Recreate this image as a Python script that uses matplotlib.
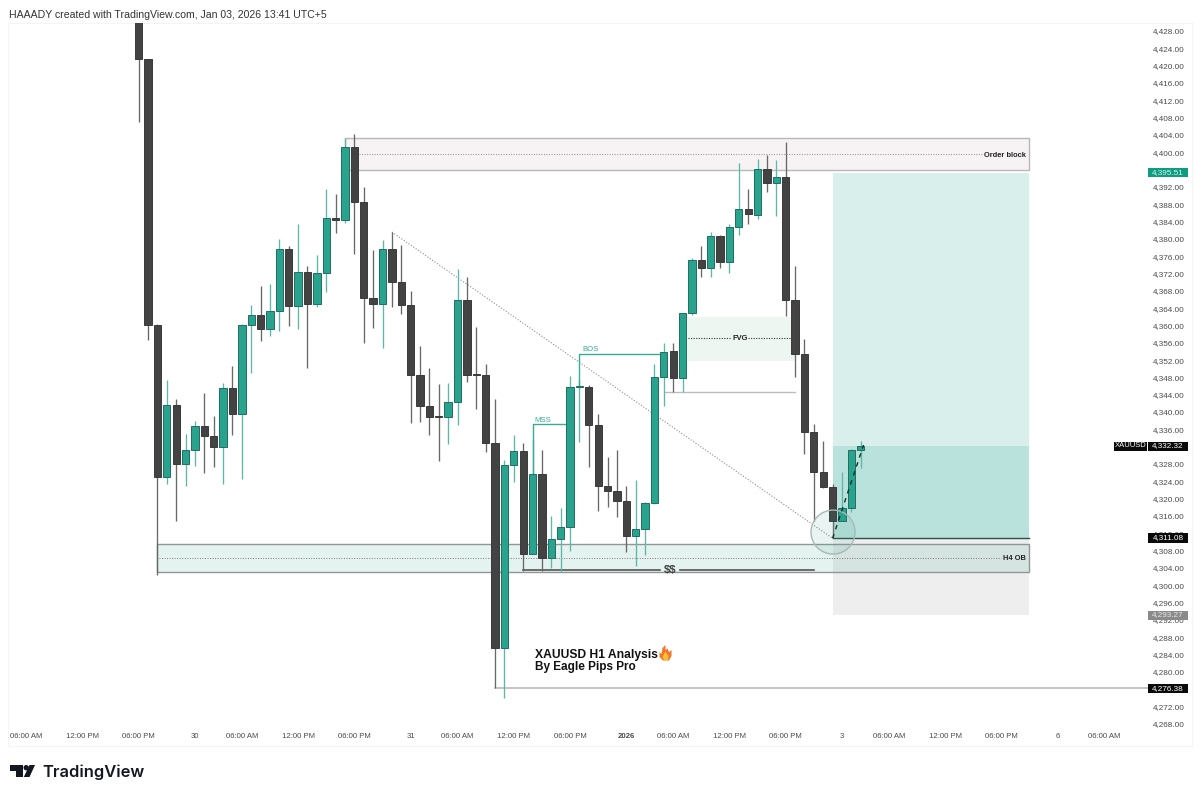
import matplotlib
matplotlib.use("Agg")
import matplotlib.pyplot as plt
from matplotlib.patches import Rectangle, Ellipse, Polygon, Circle
from matplotlib.transforms import Affine2D

plt.rcParams['font.family'] = ['Liberation Sans', 'DejaVu Sans']

opens = [4431.0,4421.8,4360.3,4325.2,4341.9,4328.2,4331.5,4337.0,4334.7,4332.2,
         4345.8,4339.8,4360.3,4362.6,4359.4,4363.6,4377.9,4364.7,4372.6,4365.2,
         4372.3,4385.0,4384.6,4401.4,4388.7,4366.6,4365.2,4377.9,4370.3,4365.0,
         4348.8,4341.6,4339.1,4339.0,4342.5,4366.1,4348.8,4348.7,4333.1,4285.7,
         4328.0,4331.2,4307.4,4325.9,4306.5,4310.9,4313.7,4346.0,4346.1,4337.2,
         4323.2,4322.0,4319.7,4311.6,4313.3,4319.2,4348.4,4354.3,4348.1,4363.1,
         4375.3,4373.5,4380.9,4374.9,4383.0,4387.1,4385.8,4396.4,4393.1,4394.5,
         4366.1,4353.6,4335.6,4326.4,4323.0,4315.1,4318.1,4331.5]
closes = [4421.8,4360.3,4325.2,4341.9,4328.2,4331.5,4337.0,4334.7,4332.2,4345.8,
          4339.8,4360.3,4362.6,4359.4,4363.6,4377.9,4364.7,4372.6,4365.2,4372.3,
          4385.0,4384.6,4401.4,4388.7,4366.6,4365.2,4377.9,4370.3,4365.0,4348.8,
          4341.6,4339.1,4339.0,4342.5,4366.1,4348.8,4348.7,4333.1,4285.7,4328.0,
          4331.2,4307.4,4325.9,4306.5,4310.9,4313.7,4346.0,4346.1,4337.2,4323.2,
          4322.0,4319.7,4311.6,4313.3,4319.2,4348.3,4354.1,4348.1,4363.1,4375.3,
          4373.5,4380.9,4374.9,4383.0,4387.1,4385.9,4396.4,4393.1,4394.5,4366.1,
          4353.6,4335.6,4326.4,4323.0,4315.1,4318.1,4331.5,4332.32]
highs = [4431.0,4421.8,4360.5,4347.6,4343.2,4335.2,4338.2,4344.6,4339.3,4346.9,
         4350.9,4360.5,4365.0,4369.3,4369.8,4380.2,4378.6,4383.7,4374.0,4376.5,
         4391.7,4390.6,4403.5,4404.4,4392.2,4377.7,4380.0,4381.8,4378.8,4368.2,
         4355.5,4350.4,4346.7,4346.9,4373.3,4371.4,4359.9,4351.3,4343.2,4329.2,
         4334.9,4333.1,4333.8,4331.5,4316.2,4318.1,4348.6,4347.6,4346.5,4339.8,
         4329.9,4331.5,4323.2,4324.5,4319.4,4351.3,4356.2,4356.2,4363.1,4375.8,
         4378.6,4381.8,4381.1,4383.7,4397.7,4391.7,4398.7,4399.6,4398.4,4402.6,
         4374.0,4357.1,4337.5,4333.5,4323.6,4326.4,4331.6,4333.5]
lows = [4407.2,4356.9,4302.6,4323.6,4315.1,4323.2,4327.8,4326.2,4327.5,4323.6,
        4334.9,4324.8,4349.2,4356.6,4357.8,4359.0,4360.1,4359.4,4350.4,4364.5,
        4368.0,4381.6,4383.9,4376.7,4356.2,4359.6,4355.0,4364.5,4362.9,4337.7,
        4337.9,4334.9,4328.9,4332.9,4337.2,4347.2,4340.9,4331.0,4276.38,4274.2,
        4324.1,4303.5,4307.4,4303.5,4304.2,4303.3,4308.1,4333.3,4327.5,4317.4,
        4318.3,4316.0,4307.9,4304.7,4307.2,4319.0,4341.6,4344.9,4344.9,4362.6,
        4371.4,4371.4,4373.5,4372.3,4381.1,4383.7,4384.8,4391.0,4385.5,4362.4,
        4348.3,4330.5,4315.1,4322.7,4311.08,4315.1,4317.1,4327.3]

price_ticks = [p for p in range(4268, 4429, 4) if p != 4276]
time_pos = [-12,-6,0,6,11,17,23,29,34,40,46,52,57,63,69,75,80,86,92,98,103]
time_labels = ["06:00 AM","12:00 PM","06:00 PM","30","06:00 AM","12:00 PM","06:00 PM","31",
               "06:00 AM","12:00 PM","06:00 PM","2026","06:00 AM","12:00 PM","06:00 PM","3",
               "06:00 AM","12:00 PM","06:00 PM","6","06:00 AM"]

TP, LAST, ENTRY, STOP, LOWEST = 4395.51, 4332.32, 4311.08, 4293.27, 4276.38
OB_TOP, OB_BOT, OB_MID = 4403.5, 4396.1, 4399.8
H4_TOP, H4_BOT, H4_MID = 4309.75, 4303.3, 4306.5
FVG_TOP, FVG_BOT, FVG_MID = 4362.2, 4352.0, 4357.3
LIQ, SWING, MSS, BOS = 4303.75, 4344.9, 4337.5, 4353.6

W, H = 1200, 797
fig = plt.figure(figsize=(W/100, H/100), dpi=100, facecolor='white')
ax = fig.add_axes([8/W, 1-746/H, 1184/W, 723/H])
ax.set_xlim(-13.94, 112.33)
ax.set_ylim(4263.1, 4430.08)
for s in ax.spines.values():
    s.set_color('#f4f4f4'); s.set_linewidth(0.8)

ax.set_yticks(price_ticks)
ax.set_yticklabels([f"{p:,.2f}" for p in price_ticks], fontsize=5.9, color='#4a4a4a', ha='right', va='center')
ax.yaxis.tick_right()
ax.tick_params(axis='y', length=0, pad=-5.0)
ax.set_xticks(time_pos)
ax.set_xticklabels(time_labels, fontsize=5.6, color='#4a4a4a')
ax.tick_params(axis='x', length=0, pad=-9.5)
for lab, txt in zip(ax.get_xticklabels(), time_labels):
    if txt == "2026":
        lab.set_fontweight('bold')

XR = 94.95
# position tool
ax.add_patch(Rectangle((74, ENTRY), XR-74, TP-ENTRY, fc='#d9efeb', ec='none', zorder=1))
ax.add_patch(Rectangle((74, ENTRY), XR-74, LAST-ENTRY, fc='#b9e2dc', ec='none', zorder=1.1))
ax.add_patch(Rectangle((74, STOP), XR-74, ENTRY-STOP, fc='#eeeeee', ec='none', zorder=1))
# zones
ax.add_patch(Rectangle((22, OB_BOT), XR-22, OB_TOP-OB_BOT, fc='#f7f3f5', ec='#b8b8b8', lw=1.0, zorder=1.2))
ax.plot([23.5, 90], [OB_MID, OB_MID], ls=(0, (1, 1.6)), color='#8a8a8a', lw=0.7, zorder=1.3)
ax.text(94.6, OB_MID-0.3, "Order block", fontsize=5.4, fontweight='bold', ha='right', va='center', color='#222222', zorder=2)

ax.add_patch(Rectangle((2, H4_BOT), XR-2, H4_TOP-H4_BOT, fc=(0.16, 0.62, 0.54, 0.12), ec='#8f9695', lw=1.0, zorder=1.2))
ax.plot([2.2, 92], [H4_MID, H4_MID], ls=(0, (1, 1.6)), color='#777777', lw=0.7, zorder=1.3)
ax.text(94.6, H4_MID, "H4 OB", fontsize=5.4, fontweight='bold', ha='right', va='center', color='#222222', zorder=2)

ax.add_patch(Rectangle((58.4, FVG_BOT), 70.1-58.4, FVG_TOP-FVG_BOT, fc='#eef6f1', ec='none', zorder=1))
ax.plot([58.6, 63.2], [FVG_MID, FVG_MID], ls=(0, (1, 1.3)), color='#333333', lw=0.8, zorder=1.3)
ax.plot([65.0, 69.8], [FVG_MID, FVG_MID], ls=(0, (1, 1.3)), color='#333333', lw=0.8, zorder=1.3)
ax.text(64.1, FVG_MID-0.1, "FVG", fontsize=5.4, fontweight='bold', ha='center', va='center', color='#222222', zorder=2)

# horizontal levels
ax.plot([38, 107.6], [LOWEST, LOWEST], color='#b4b4b4', lw=1.1, zorder=1.5)
ax.plot([56, 70], [SWING, SWING], color='#bdbdbd', lw=1.0, zorder=1.5)
ax.plot([74, XR], [ENTRY, ENTRY], color='#2f4f4a', lw=1.0, zorder=1.6)
ax.plot([41, 55.6], [LIQ, LIQ], color='#555555', lw=1.2, zorder=1.6)
ax.plot([57.7, 72], [LIQ, LIQ], color='#555555', lw=1.2, zorder=1.6)
ax.text(56.65, LIQ, "$$", fontsize=8.2, fontweight='bold', ha='center', va='center', color='#444444', zorder=2, parse_math=False)

# diagonal
ax.plot([27, 74], [highs[27], ENTRY], ls=(0, (1, 1.6)), color='#8c8c8c', lw=0.8, zorder=1.7)

# candles
DARK, DARK_W, DARK_E = '#434343', '#686868', '#3a3a3a'
GREEN, GREEN_W, GREEN_E = '#2aa38e', '#5db8a8', '#1e6f62'
xs = list(range(len(opens)))
cols = [closes[i] > opens[i] for i in xs]
ax.vlines(xs, lows, highs, colors=[GREEN_W if c else DARK_W for c in cols], lw=0.95, zorder=3)
ax.bar(xs, [max(abs(closes[i]-opens[i]), 0.25) for i in xs],
       bottom=[min(opens[i], closes[i]) for i in xs], width=0.78,
       color=[GREEN if c else DARK for c in cols],
       edgecolor=[GREEN_E if c else DARK_E for c in cols], linewidth=0.7, zorder=3.2)

# MSS / BOS
TEAL = '#36ab96'
ax.plot([42, 42, 46], [closes[42], MSS, MSS], color=TEAL, lw=1.0, zorder=3.1)
ax.text(42.2, MSS-0.05, "MSS", fontsize=5.6, color=TEAL, ha='left', va='bottom', zorder=4)
ax.plot([47, 47, 56], [closes[47], BOS, BOS], color=TEAL, lw=1.0, zorder=3.1)
ax.text(47.3, BOS+0.2, "BOS", fontsize=5.6, color=TEAL, ha='left', va='bottom', zorder=4)

# circle + projection
ax.add_patch(Ellipse((74.05, 4312.5), 4.7, 10.16, fc=(0.2, 0.6, 0.55, 0.10), ec='#a9b8b5', lw=1.0, zorder=3.5))
ax.plot([74, 77.3], [ENTRY, 4332.6], ls=(0, (3.2, 3.6)), color='#1c2b28', lw=1.0, zorder=3.6)

# title note
ax.text(42.3, 4284.1, "XAUUSD H1 Analysis", fontsize=8.7, fontweight='bold', color='#111111', ha='left', va='center', zorder=5)
ax.text(42.3, 4281.35, "By Eagle Pips Pro", fontsize=8.5, fontweight='bold', color='#111111', ha='left', va='center', zorder=5)

# price badges
def badge(price, text, bg, fg='white', x0=107.64, x1=111.9, fs=5.9):
    ax.add_patch(Rectangle((x0, price-1.1), x1-x0, 2.2, fc=bg, ec='none', zorder=6))
    ax.text((x0+x1)/2, price+0.1, text, fontsize=fs, color=fg, ha='center', va='center', zorder=6.5)
badge(TP, f"{TP:,.2f}", '#0f9d82', '#d8f3ec')
badge(LAST, f"{LAST:,.2f}", '#0a0a0a')
badge(ENTRY, f"{ENTRY:,.2f}", '#0a0a0a')
badge(STOP, f"{STOP:,.2f}", '#8a8a8a', '#e8e8e8')
badge(LOWEST, f"{LOWEST:,.2f}", '#0a0a0a')
badge(LAST, "XAUUSD", '#0a0a0a', x0=104.0, x1=107.5, fs=5.5)

# pixel-space decorations
px = Affine2D().scale(1, -1).translate(0, H)
def add(p):
    p.set_transform(px)
    fig.add_artist(p)

# fire emoji, drawn as a shape
add(Polygon([(659.5,657),(659.5,652),(661.5,654),(662.5,648),(665.5,645),(665.5,650),(667.5,648.5),(669,652),
             (671.5,650),(671.5,656),(669,660.5),(663,660.5)], closed=True, fc='#f0772c', ec='none', zorder=6))
add(Polygon([(662.5,657.5),(664,654),(665.5,651.5),(667,654),(668.5,656),(668,660),(664,660)], closed=True, fc='#fbc02d', ec='none', zorder=7))

# TradingView logo
LOGO = '#131722'
add(Polygon([(10,765),(23,765),(23,777),(16,777),(16,770.5),(10,770.5)], closed=True, fc=LOGO, ec='none'))
add(Circle((26.2,767.7), 2.7, fc=LOGO, ec='none'))
add(Polygon([(29.5,765),(35,765),(29.5,777),(23.8,777)], closed=True, fc=LOGO, ec='none'))
fig.text(42/W, 1-772/H, "TradingView", fontsize=11.9, fontfamily=['Inter', 'DejaVu Sans'], fontweight='semibold',
         color=LOGO, ha='left', va='center')
fig.text(9/W, 1-15/H, "HAAADY created with TradingView.com, Jan 03, 2026 13:41 UTC+5",
         fontsize=7.6, color='#333333', ha='left', va='center')

fig.savefig("out.png", dpi=100, facecolor='white')
